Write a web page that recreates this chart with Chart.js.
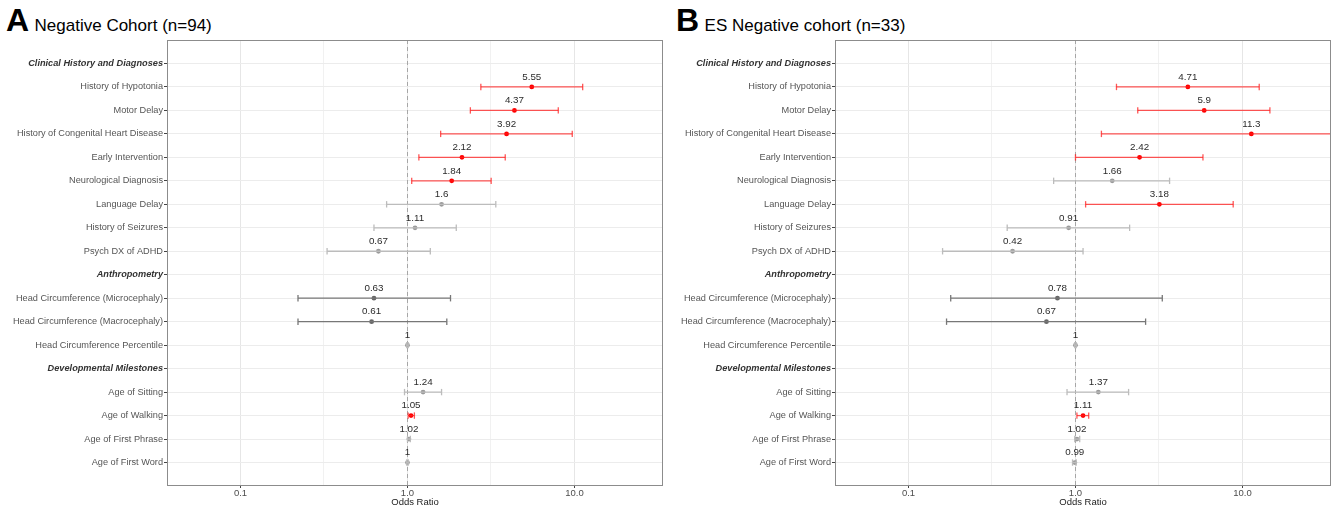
<!DOCTYPE html>
<html>
<head>
<meta charset="utf-8">
<script src="https://cdn.jsdelivr.net/npm/chart.js@4.4.0/dist/chart.umd.js"></script>
<style>
    body { margin: 0; background: #fff; width: 1336px; height: 512px; overflow: hidden; position: relative;
           font-family: 'Liberation Sans', Arial, Helvetica, sans-serif; }
    canvas { position: absolute; top: 0; }
    .ttl { position: absolute; white-space: nowrap; color: #000; line-height: normal; }
    .ttl b { font-size: 32px; font-weight: bold; margin-right: 1px; }
    .ttl span { font-size: 17px; }
</style>
</head>
<body>
<div class="ttl" style="left:6px;top:2px;"><b>A</b> <span>Negative Cohort (n=94)</span></div>
<div class="ttl" style="left:676px;top:2px;"><b>B</b> <span>ES Negative cohort (n=33)</span></div>
<canvas id="panel-a" width="668" height="512" style="left:0;"></canvas>
<canvas id="panel-b" width="668" height="512" style="left:668px;"></canvas>
<script>
// rows, top to bottom
const rows = ['Clinical History and Diagnoses', 'History of Hypotonia', 'Motor Delay',
    'History of Congenital Heart Disease', 'Early Intervention', 'Neurological Diagnosis', 'Language Delay',
    'History of Seizures', 'Psych DX of ADHD', 'Anthropometry', 'Head Circumference (Microcephaly)',
    'Head Circumference (Macrocephaly)', 'Head Circumference Percentile', 'Developmental Milestones',
    'Age of Sitting', 'Age of Walking', 'Age of First Phrase', 'Age of First Word'];
const headingRows = [0, 9, 13];

const xTicks = [0.1, 0.316, 1, 3.16, 10];
const xTickLabels = ['0.1', '', '1.0', '', '10.0'];

// panel A: negative cohort
const orA = [null, 5.55, 4.37, 3.92, 2.12, 1.84, 1.6, 1.11, 0.67, null, 0.63, 0.61, 1, null, 1.24, 1.05, 1.02, 1];
const loA = [null, 2.75, 2.38, 1.58, 1.17, 1.06, 0.75, 0.63, 0.33, null, 0.221, 0.221, 0.99, null, 0.96, 1.01, 1.0, 0.99];
const hiA = [null, 11.2, 8.0, 9.7, 3.85, 3.17, 3.38, 1.96, 1.37, null, 1.81, 1.72, 1.01, null, 1.6, 1.10, 1.04, 1.01];
const sigA = [0, 1, 1, 1, 1, 1, 0, 0, 0, 0, 0, 0, 0, 0, 0, 1, 0, 0];

// panel B: ES negative cohort
const orB = [null, 4.71, 5.9, 11.3, 2.42, 1.66, 3.18, 0.91, 0.42, null, 0.78, 0.67, 1, null, 1.37, 1.11, 1.02, 0.99];
const loB = [null, 1.76, 2.36, 1.43, 1.0, 0.74, 1.15, 0.39, 0.16, null, 0.179, 0.169, 0.99, null, 0.89, 1.02, 0.99, 0.96];
const hiB = [null, 12.6, 14.6, 90, 5.8, 3.66, 8.8, 2.11, 1.11, null, 3.31, 2.63, 1.01, null, 2.08, 1.20, 1.06, 1.01];
const sigB = [0, 1, 1, 1, 1, 0, 1, 0, 0, 0, 0, 0, 0, 0, 0, 1, 0, 0];

const FONT = "'Liberation Sans', Arial, Helvetica, sans-serif";
const darkRows = [10, 11];
const barColor = (sig, i) => sig[i] ? 'rgba(255,30,30,0.75)' : darkRows.includes(i) ? '#777777' : '#bcbcbc';
const ptColor = (sig, i) => sig[i] ? '#ff0000' : darkRows.includes(i) ? '#666666' : '#9a9a9a';
const tv = (c) => (c && c.tick) ? c.tick.value : null;
const inRows = (c) => { const v = tv(c); return v !== null && v >= 0 && v <= 17; };

function build(id, or, lo, hi, sig) {
    const datasets = [];
    const idx = [];
    rows.forEach((_, i) => {
        if (or[i] == null) return;
        idx.push(i);
        const c = barColor(sig, i);
        datasets.push({
            type: 'line', data: [{ x: lo[i], y: i }, { x: hi[i], y: i }],
            borderColor: c, borderWidth: 1.3, fill: false, tension: 0,
            pointStyle: 'line', pointRotation: 90, pointRadius: 3.2, pointHoverRadius: 3.2,
            pointBorderColor: c, pointBorderWidth: 1.3,
        });
    });
    datasets.push({
        type: 'scatter', data: idx.map((i) => ({ x: or[i], y: i })),
        pointStyle: 'circle', pointRadius: 2.4, pointHoverRadius: 2.4, pointBorderWidth: 0,
        backgroundColor: idx.map((i) => ptColor(sig, i)), borderColor: idx.map((i) => ptColor(sig, i)),
    });

    const overlay = {
        id: 'overlay',
        beforeDatasetsDraw(chart) {
            const { ctx, chartArea: a, scales: { x } } = chart;
            const px = Math.round(x.getPixelForValue(1)) + 0.5;
            ctx.save();
            ctx.strokeStyle = '#a6a6a6'; ctx.lineWidth = 1; ctx.setLineDash([4, 3]);
            ctx.beginPath(); ctx.moveTo(px, a.top); ctx.lineTo(px, a.bottom); ctx.stroke();
            ctx.restore();
        },
        afterDatasetsDraw(chart) {
            const { ctx, chartArea: a, scales: { x, y } } = chart;
            ctx.save();
            ctx.font = `9.8px ${FONT}`; ctx.fillStyle = '#2b2b2b'; ctx.textAlign = 'center'; ctx.textBaseline = 'middle';
            idx.forEach((i) => ctx.fillText(String(or[i]), x.getPixelForValue(or[i]), y.getPixelForValue(i) - 10));
            ctx.strokeStyle = '#8c8c8c'; ctx.lineWidth = 1;
            ctx.strokeRect(a.left + 0.5, a.top + 0.5, a.width - 1, a.height - 1);
            ctx.restore();
        },
    };

    return new Chart(document.getElementById(id), {
        type: 'scatter',
        data: { datasets },
        plugins: [overlay],
        options: {
            responsive: false, animation: false, events: [],
            layout: { padding: { top: 40, right: 5, left: 0, bottom: 0 } },
            plugins: { legend: { display: false }, tooltip: { enabled: false } },
            scales: {
                x: {
                    type: 'logarithmic', min: 0.0363, max: 33.9,
                    afterBuildTicks: (s) => { s.ticks = xTicks.map((v) => ({ value: v })); },
                    afterFit: (s) => { s.height = 26; },
                    border: { display: false },
                    grid: {
                        color: (c) => xTickLabels[c.index] ? '#e6e6e6' : '#f1f1f1',
                        lineWidth: 1, drawTicks: true, tickLength: 2,
                        tickColor: (c) => xTickLabels[c.index] ? '#444' : 'transparent',
                    },
                    ticks: {
                        autoSkip: false, maxRotation: 0, padding: 0, color: '#4d4d4d',
                        font: { family: FONT, size: 9.5 },
                        callback: (v, i) => xTickLabels[i],
                    },
                    title: { display: true, text: 'Odds Ratio', color: '#1a1a1a',
                             font: { family: FONT, size: 9.5 }, padding: { top: 0, bottom: 4 } },
                },
                y: {
                    type: 'linear', reverse: true, min: -1, max: 18,
                    afterBuildTicks: (s) => { s.ticks = []; for (let v = -1; v <= 18; v++) s.ticks.push({ value: v }); },
                    afterFit: (s) => { s.width = 167; },
                    border: { display: false },
                    grid: {
                        color: (c) => inRows(c) ? '#ececec' : 'transparent',
                        lineWidth: 1, drawTicks: true, tickLength: 3,
                        tickColor: (c) => inRows(c) ? '#444' : 'transparent',
                    },
                    ticks: {
                        autoSkip: false, padding: 1,
                        color: (c) => headingRows.includes(tv(c)) ? '#333' : '#555',
                        font: (c) => headingRows.includes(tv(c))
                            ? { family: FONT, size: 9.2, weight: 'bold', style: 'italic' }
                            : { family: FONT, size: 9.2 },
                        callback: (v) => rows[v] ?? '',
                    },
                },
            },
        },
    });
}

build('panel-a', orA, loA, hiA, sigA);
build('panel-b', orB, loB, hiB, sigB);
</script>
</body>
</html>
